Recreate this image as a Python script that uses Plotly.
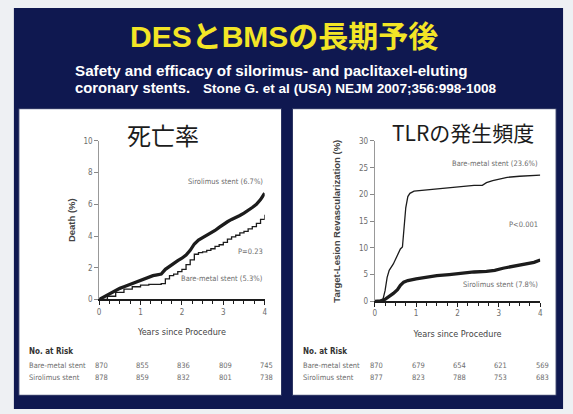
import plotly.graph_objects as go

# ---------------- data ----------------
years_ticks = [0, 1, 2, 3, 4]

death_sir_x = [0, 0.1, 0.2, 0.3, 0.4, 0.5, 0.6, 0.7, 0.8, 0.9, 1.0, 1.1, 1.2, 1.3, 1.4, 1.5, 1.6, 1.7,
               1.8, 1.9, 2.0, 2.1, 2.2, 2.3, 2.4, 2.5, 2.6, 2.7, 2.8, 2.9, 3.0, 3.1, 3.2, 3.3, 3.4, 3.5,
               3.6, 3.7, 3.8, 3.9, 4.0]
death_sir_y = [0, 0.15, 0.3, 0.4, 0.55, 0.7, 0.8, 0.9, 1.0, 1.15, 1.2, 1.35, 1.45, 1.5, 1.55, 1.6, 1.9, 2.1,
               2.3, 2.45, 2.6, 2.8, 3.1, 3.5, 3.75, 3.9, 4.0, 4.15, 4.35, 4.55, 4.75, 4.9, 5.05, 5.15, 5.3, 5.45,
               5.6, 5.8, 6.0, 6.3, 6.7]
death_bms_x = [0, 0.2, 0.4, 0.6, 0.8, 1.0, 1.2, 1.4, 1.5, 1.6, 1.7, 1.8, 1.9, 2.0, 2.1, 2.2, 2.3, 2.4,
               2.5, 2.6, 2.7, 2.8, 2.9, 3.0, 3.1, 3.2, 3.3, 3.4, 3.5, 3.6, 3.7, 3.8, 3.9, 4.0]
death_bms_y = [0, 0.2, 0.45, 0.65, 0.8, 0.9, 0.95, 0.95, 1.0, 1.3, 1.5, 1.6, 1.75, 1.9, 2.2, 2.5, 2.85, 2.95,
               3.0, 3.1, 3.2, 3.35, 3.45, 3.6, 3.8, 3.95, 4.05, 4.2, 4.3, 4.45, 4.6, 4.8, 5.05, 5.35]

tlr_bms_x = [0, 0.1, 0.2, 0.25, 0.3, 0.35, 0.45, 0.55, 0.62, 0.67, 0.7, 0.75, 0.8, 0.85, 0.95, 1.2, 1.5,
             1.8, 2.1, 2.4, 2.6, 2.7, 2.85, 3.0, 3.2, 3.5, 3.8, 4.0]
tlr_bms_y = [0, 0.1, 0.4, 2.0, 4.5, 5.8, 7.0, 8.5, 9.8, 10.2, 13.0, 17.5, 19.6, 20.2, 20.6, 20.8, 21.0,
             21.3, 21.5, 21.7, 21.7, 22.2, 22.6, 22.9, 23.2, 23.4, 23.5, 23.6]
tlr_sir_x = [0, 0.15, 0.25, 0.35, 0.45, 0.55, 0.62, 0.7, 0.8, 1.0, 1.2, 1.5, 1.8, 2.1, 2.4, 2.7, 2.9,
             3.1, 3.3, 3.5, 3.7, 3.85, 4.0]
tlr_sir_y = [0, 0.1, 0.4, 0.9, 1.5, 2.2, 3.0, 3.6, 3.9, 4.2, 4.5, 4.8, 5.0, 5.3, 5.5, 5.6, 5.8,
             6.2, 6.5, 6.8, 7.0, 7.3, 7.75]

risk_left_bms = [870, 855, 836, 809, 745]
risk_left_sir = [878, 859, 832, 801, 738]
risk_right_bms = [870, 679, 654, 621, 569]
risk_right_sir = [877, 823, 788, 753, 683]

# ---------------- layout helpers ----------------
W, H = 573, 414
def px(x):
    return x / W
def py(y):
    return 1 - y / H

NAVY = "#0f1850"
INK = "#1c1c1c"
GREY = "#6d6d6d"
NARROW = "Liberation Sans Narrow, Arial Narrow, DejaVu Sans Condensed, sans-serif"
SANS = "Liberation Sans, Arial, sans-serif"
JP = "Noto Sans CJK JP, sans-serif"

fig = go.Figure()

line_thick = dict(color=INK, width=3.3)
line_thin = dict(color=INK, width=1.3)

fig.add_trace(go.Scatter(x=death_bms_x, y=death_bms_y, mode="lines", line=line_thin, line_shape="hv",
                         xaxis="x", yaxis="y", showlegend=False, hoverinfo="skip"))
fig.add_trace(go.Scatter(x=death_sir_x, y=death_sir_y, mode="lines", line=line_thick,
                         xaxis="x", yaxis="y", showlegend=False, hoverinfo="skip"))
fig.add_trace(go.Scatter(x=tlr_bms_x, y=tlr_bms_y, mode="lines", line=line_thin,
                         xaxis="x2", yaxis="y2", showlegend=False, hoverinfo="skip"))
fig.add_trace(go.Scatter(x=tlr_sir_x, y=tlr_sir_y, mode="lines", line=line_thick,
                         xaxis="x2", yaxis="y2", showlegend=False, hoverinfo="skip"))

def xaxis_cfg(x0, x1, anchor):
    return dict(domain=[px(x0), px(x1)], range=[0, 4], anchor=anchor, tickvals=years_ticks,
                ticks="outside", ticklen=4, tickcolor=INK, showline=True, linecolor=INK, linewidth=1.5,
                showgrid=False, zeroline=False, fixedrange=True,
                minor=dict(dtick=0.25, ticks="outside", ticklen=3, tickcolor=INK),
                tickfont=dict(family=NARROW, size=8, color=GREY),
                title=dict(text="Years since Procedure", font=dict(family=NARROW, size=9, color="#444"),
                           standoff=13))

def yaxis_cfg(y0, y1, anchor, rng, dtick, title, tsize, standoff):
    return dict(domain=[py(y1), py(y0)], range=rng, anchor=anchor, dtick=dtick,
                ticks="outside", ticklen=4, tickcolor="#888", showline=True, linecolor="#999", linewidth=1,
                showgrid=False, zeroline=False, fixedrange=True,
                tickfont=dict(family=NARROW, size=8, color=GREY),
                title=dict(text=title, font=dict(family=SANS, size=tsize, color="#444", weight="bold"),
                           standoff=standoff))

fig.update_layout(
    width=W, height=H, margin=dict(l=0, r=0, t=0, b=0),
    paper_bgcolor="#eef0f3", plot_bgcolor="rgba(0,0,0,0)",
    xaxis=xaxis_cfg(98, 265, "y"),
    yaxis=yaxis_cfg(140, 302, "x", [0, 10], 2, "Death (%)", 9.5, 6),
    xaxis2=xaxis_cfg(376, 543, "y2"),
    yaxis2=yaxis_cfg(140, 304, "x2", [0, 30], 5, "Target-Lesion Revascularization (%)", 9.5, 16),
)

shapes = [
    dict(type="rect", xref="paper", yref="paper", x0=px(12), x1=px(566), y0=py(414), y1=py(4),
         fillcolor=NAVY, line=dict(width=0), layer="below"),
    dict(type="rect", xref="paper", yref="paper", x0=px(17), x1=px(282), y0=py(400), y1=py(107),
         fillcolor="white", line=dict(color="#27305e", width=1), layer="below"),
    dict(type="rect", xref="paper", yref="paper", x0=px(293), x1=px(559), y0=py(400), y1=py(107),
         fillcolor="white", line=dict(color="#27305e", width=1), layer="below"),
]
fig.update_layout(shapes=shapes)

ann = []
def text(x, y, s, size, color, family, xanchor="left", bold=False):
    ann.append(dict(x=px(x), y=py(y), xref="paper", yref="paper", text=s, showarrow=False,
                    xanchor=xanchor, yanchor="middle",
                    font=dict(size=size, color=color, family=family, weight="bold" if bold else "normal")))

# slide titles
text(284, 33, "DESとBMSの長期予後", 30, "#f3e526", "Liberation Sans, Noto Sans CJK JP, sans-serif", "center", True)
text(72, 68, "Safety and efficacy of silorimus- and paclitaxel-eluting", 15.2, "white", SANS, "left", True)
text(72, 86, "coronary stents.", 14.8, "white", SANS, "left", True)
text(201, 86, "Stone G. et al (USA) NEJM 2007;356:998-1008", 13.6, "white", SANS, "left", True)

# panel titles
text(162, 133, "死亡率", 24, INK, JP, "center")
text(465, 131, "TLRの発生頻度", 21, INK, JP, "center")

# curve labels
text(265, 181, "Sirolimus stent (6.7%)", 7.5, GREY, NARROW, "right")
text(265, 253, "P=0.23", 7.5, GREY, NARROW, "right")
text(265, 281, "Bare-metal stent (5.3%)", 7.5, GREY, NARROW, "right")
text(543, 163, "Bare-metal stent (23.6%)", 7.5, GREY, NARROW, "right")
text(543, 225, "P<0.001", 7.5, GREY, NARROW, "right")
text(543, 287, "Sirolimus stent (7.8%)", 7.5, GREY, NARROW, "right")

# number at risk tables
def risk_table(x_label, x_axis0, x_axis1, bms, sir):
    text(x_label, 355, "No. at Risk", 8, "#333", NARROW, "left", True)
    text(x_label, 370, "Bare-metal stent", 7.5, GREY, NARROW, "left")
    text(x_label, 382, "Sirolimus stent", 7.5, GREY, NARROW, "left")
    for i, (b, s) in enumerate(zip(bms, sir)):
        xx = x_axis0 + (x_axis1 - x_axis0) * years_ticks[i] / 4
        text(xx + 2, 370, str(b), 7.5, GREY, NARROW, "center")
        text(xx + 2, 382, str(s), 7.5, GREY, NARROW, "center")

risk_table(25, 98, 265, risk_left_bms, risk_left_sir)
risk_table(302, 376, 543, risk_right_bms, risk_right_sir)

fig.update_layout(annotations=ann)
fig.write_html("out.html",
               config={"displayModeBar": False, "staticPlot": True},
               post_script="document.body.style.margin='0px';document.body.style.overflow='hidden';")
